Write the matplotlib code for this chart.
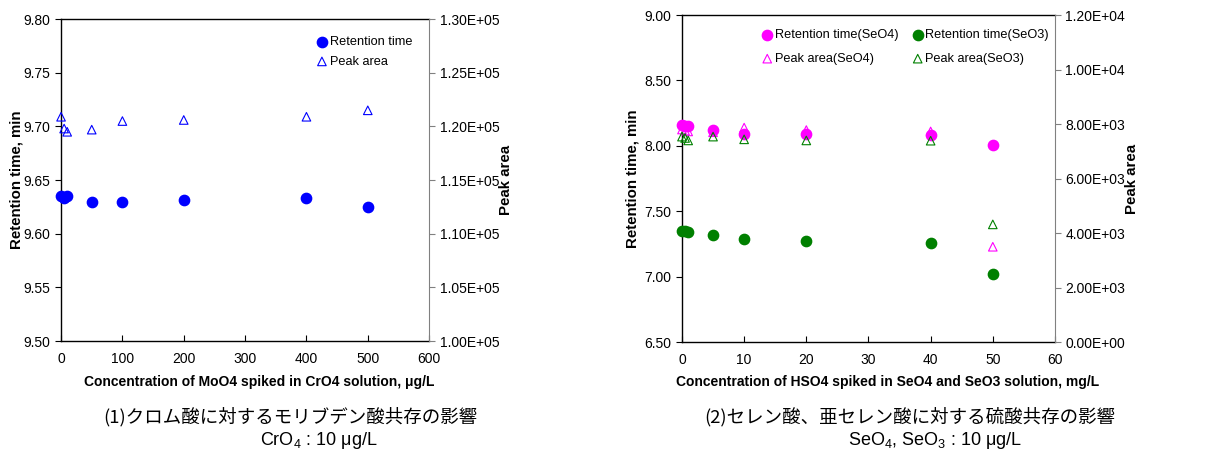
import numpy as np
import matplotlib
matplotlib.use("Agg")
import matplotlib.pyplot as plt

plt.rcParams['font.family'] = ['Liberation Sans', 'Noto Sans CJK JP', 'DejaVu Sans']
plt.rcParams['mathtext.fontset'] = 'custom'
plt.rcParams['mathtext.rm'] = 'Liberation Sans'
plt.rcParams['mathtext.it'] = 'Liberation Sans:italic'
plt.rcParams['mathtext.bf'] = 'Liberation Sans:bold'

# (1) MoO4 spiked in CrO4
mo_conc = [0, 5, 10, 50, 100, 200, 400, 500]
mo_rt = [9.635, 9.633, 9.635, 9.630, 9.630, 9.631, 9.633, 9.625]
mo_area = [1.209e5, 1.198e5, 1.195e5, 1.197e5, 1.205e5, 1.206e5, 1.209e5, 1.215e5]

# (2) HSO4 spiked in SeO4 / SeO3
hs_conc = [0, 0.5, 1, 5, 10, 20, 40, 50]
seo4_rt = [8.16, 8.15, 8.15, 8.12, 8.09, 8.09, 8.08, 8.01]
seo3_rt = [7.35, 7.35, 7.34, 7.32, 7.29, 7.27, 7.26, 7.02]
seo4_area = [7800, 7760, 7730, 7700, 7870, 7780, 7730, 3500]
seo3_area = [7540, 7490, 7400, 7540, 7440, 7400, 7390, 4320]

left_ticks = [9.50, 9.55, 9.60, 9.65, 9.70, 9.75, 9.80]
right_ticks = [6.50, 7.00, 7.50, 8.00, 8.50, 9.00]

fig = plt.figure(figsize=(12.31, 4.55), dpi=100)

FS = 10
LFS = 9.2
MAG = '#ff00ff'
GRN = '#008000'
BLU = '#0000ff'


def style_axes(ax, ax2):
    ax.tick_params(axis='y', direction='out', length=4, labelsize=FS, colors='black')
    ax.tick_params(axis='x', direction='in', length=4, labelsize=FS, pad=8)
    ax2.tick_params(axis='y', direction='out', length=4, labelsize=FS, color='gray')
    for s in ['left', 'bottom', 'top']:
        ax.spines[s].set_color('black')
        ax.spines[s].set_linewidth(1.0)
    ax2.spines['right'].set_color('gray')
    ax.spines['right'].set_visible(False)
    for s in ['left', 'bottom', 'top']:
        ax2.spines[s].set_visible(False)


# left chart
ax1 = fig.add_axes([0.0496, 0.2505, 0.299, 0.7075])
ax1b = ax1.twinx()
h1 = ax1.scatter(mo_conc, mo_rt, s=55, color=BLU, zorder=3, clip_on=False)
h2 = ax1b.scatter(mo_conc, mo_area, s=38, marker='^', facecolors='none',
                  edgecolors=BLU, linewidths=0.8, clip_on=False)
ax1.set_xlim(0, 600)
ax1.set_ylim(9.5, 9.8)
ax1.set_yticks(left_ticks)
ax1.set_yticklabels([f'{v:.2f}' for v in left_ticks])
ax1.set_xticks(range(0, 601, 100))
area1_ticks = np.arange(1.0e5, 1.30001e5, 0.05e5)
ax1b.set_ylim(1.0e5, 1.3e5)
ax1b.set_yticks(area1_ticks)
ax1b.set_yticklabels([f'{v:.2E}' for v in area1_ticks])
ax1.set_ylabel('Retention time, min', fontsize=10.8, fontweight='bold', labelpad=0)
ax1b.set_ylabel('Peak area', fontsize=10.8, fontweight='bold', labelpad=0)
ax1.set_xlabel('Concentration of MoO4 spiked in CrO4 solution, \u03bcg/L',
               fontsize=10, fontweight='bold')
ax1.xaxis.set_label_coords(0.538, -0.105)
style_axes(ax1, ax1b)
ax1b.legend([h1, h2], ['Retention time', 'Peak area'], loc='upper right',
            bbox_to_anchor=(0.978, 0.975), frameon=False, fontsize=LFS,
            handletextpad=0.0, borderpad=0.2, labelspacing=0.6, handlelength=1.2)

# right chart
ax2 = fig.add_axes([0.554, 0.248, 0.303, 0.719])
ax2b = ax2.twinx()
g1 = ax2.scatter(hs_conc, seo4_rt, s=55, color=MAG, zorder=3, clip_on=False)
g2 = ax2.scatter(hs_conc, seo3_rt, s=55, color=GRN, zorder=3, clip_on=False)
g3 = ax2b.scatter(hs_conc, seo4_area, s=38, marker='^', facecolors='none',
                  edgecolors=MAG, linewidths=0.8, clip_on=False)
g4 = ax2b.scatter(hs_conc, seo3_area, s=38, marker='^', facecolors='none',
                  edgecolors=GRN, linewidths=0.8, clip_on=False)
ax2.set_xlim(0, 60)
ax2.set_ylim(6.5, 9.0)
ax2.set_yticks(right_ticks)
ax2.set_yticklabels([f'{v:.2f}' for v in right_ticks])
ax2.set_xticks(range(0, 61, 10))
area_ticks = np.arange(0, 12001, 2000)
ax2b.set_ylim(0, 12000)
ax2b.set_yticks(area_ticks)
ax2b.set_yticklabels([f'{v:.2E}' for v in area_ticks])
ax2.set_ylabel('Retention time, min', fontsize=10.8, fontweight='bold', labelpad=4)
ax2b.set_ylabel('Peak area', fontsize=10.8, fontweight='bold', labelpad=0)
ax2.set_xlabel('Concentration of HSO4 spiked in SeO4 and SeO3 solution, mg/L',
               fontsize=10, fontweight='bold')
ax2.xaxis.set_label_coords(0.55, -0.1)
style_axes(ax2, ax2b)
ax2b.legend([g1, g3, g2, g4],
            ['Retention time(SeO4)', 'Peak area(SeO4)',
             'Retention time(SeO3)', 'Peak area(SeO3)'],
            ncol=2, loc='upper right', bbox_to_anchor=(1.008, 0.985), frameon=False,
            fontsize=LFS, handletextpad=0.0, borderpad=0.2, labelspacing=0.95,
            handlelength=1.2, columnspacing=0.9)

# captions
cap_font = ['Noto Sans CJK JP', 'DejaVu Sans']
fig.text(0.236, 0.0835, '(1)クロム酸に対するモリブデン酸共存の影響', ha='center',
         va='center', fontsize=13.3, family=cap_font)
fig.text(0.259, 0.031, 'CrO$_4$ : 10 \u03bcg/L', ha='center', va='center', fontsize=13)
fig.text(0.739, 0.0835, '(2)セレン酸、亜セレン酸に対する硫酸共存の影響', ha='center',
         va='center', fontsize=13.3, family=cap_font)
fig.text(0.76, 0.031, 'SeO$_4$, SeO$_3$ : 10 \u03bcg/L', ha='center', va='center',
         fontsize=13)

fig.savefig('out.png', dpi=100)
